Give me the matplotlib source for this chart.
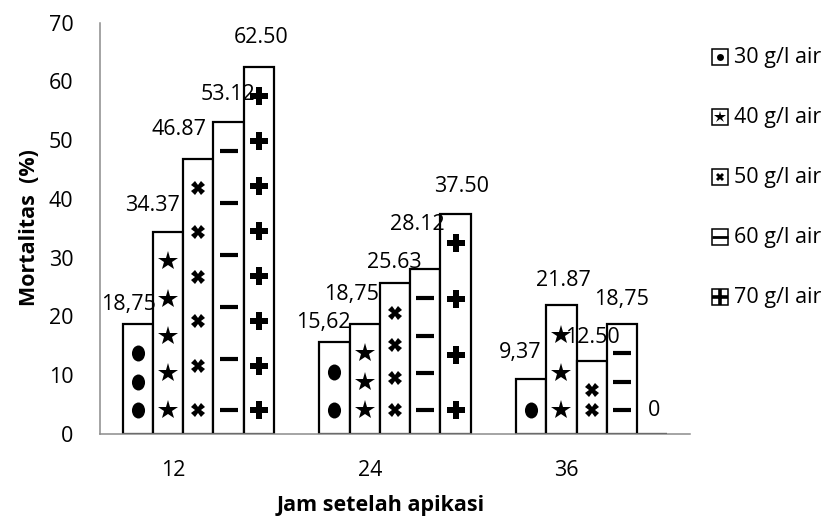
import matplotlib
matplotlib.use('Agg')
import matplotlib.pyplot as plt
from matplotlib.patches import Rectangle
from matplotlib.lines import Line2D
from matplotlib.markers import MarkerStyle
import matplotlib.transforms as mtransforms
import numpy as np

plt.rcParams['font.family'] = ['Open Sans', 'DejaVu Sans']

# ---------------- data ----------------
categories = ['12', '24', '36']
series_names = ['30 g/l air', '40 g/l air', '50 g/l air', '60 g/l air', '70 g/l air']
s30 = [18.75, 15.62, 9.37]
s40 = [34.37, 18.75, 21.87]
s50 = [46.87, 25.63, 12.50]
s60 = [53.12, 28.12, 18.75]
s70 = [62.50, 37.50, 0.0]
labels30 = ['18,75', '15,62', '9,37']
labels40 = ['34.37', '18,75', '21.87']
labels50 = ['46.87', '25.63', '12.50']
labels60 = ['53.12', '28.12', '18,75']
labels70 = ['62.50', '37.50', '0']
yticks = [0, 10, 20, 30, 40, 50, 60, 70]
xlabel = 'Jam setelah apikasi'
ylabel = 'Mortalitas  (%)'

series_values = [s30, s40, s50, s60, s70]
series_labels = [labels30, labels40, labels50, labels60, labels70]

# ---------------- style ----------------
W, H = 833, 523
ellipse = MarkerStyle('o', transform=mtransforms.Affine2D().scale(0.82, 1.0))
marker_styles = [ellipse, '*', 'X', '_', 'P']
marker_sizes = [11.5, 15, 10, 13, 12.5]
marker_ew = [0, 0, 0, 3.0, 0]
# legend glyphs inside the little boxes
leg_markers = ['o', '*', 'X', '_', '+']
leg_sizes = [5, 9, 6, 11.5, 11.5]
leg_ew = [0, 0, 0, 2.0, 2.6]
# number of pattern glyphs drawn inside each bar (series x category)
pattern_counts = [[3, 2, 1], [5, 3, 3], [6, 4, 2], [6, 4, 3], [8, 4, 0]]
# data-label offsets in pixels (dx, dy above bar top)
label_offsets = [[(-9, 19), (-11, 20), (-11, 26)],
                 [(-16, 27), (-13, 29), (2, 25)],
                 [(-19, 29), (-1, 21), (1, 23)],
                 [(-1, 27), (-8, 44), (0, 24)],
                 [(2, 29), (6, 27), (2, 24)]]
FS = 15.5

fig = plt.figure(figsize=(W / 100, H / 100), dpi=100)
ax = fig.add_axes([100 / W, (H - 434) / H, 590 / W, (434 - 22.7) / H])

n = len(series_values)
group_w = 0.77
w = group_w / n
xc = np.arange(len(categories))

for j, (vals, labs) in enumerate(zip(series_values, series_labels)):
    xs = xc + (j - (n - 1) / 2) * w
    ax.bar(xs, vals, width=w, facecolor='white', edgecolor='black', linewidth=1.6, zorder=2)
    for i, (x, v, lab) in enumerate(zip(xs, vals, labs)):
        cnt = pattern_counts[j][i]
        if cnt > 0:
            ys = np.linspace(4.0, v - 5.0, cnt) if cnt > 1 else np.array([4.0])
            ax.plot(np.full(len(ys), x), ys, linestyle='none', marker=marker_styles[j],
                    markersize=marker_sizes[j], color='black', markeredgewidth=marker_ew[j], zorder=3)
        dx, dy = label_offsets[j][i]
        ax.annotate(lab, xy=(x, v), xytext=(dx, dy), textcoords='offset pixels',
                    ha='center', va='center', fontsize=FS, color='black', zorder=4)

ax.set_xlim(-0.5, len(categories) - 0.5)
ax.set_ylim(0, 70)
ax.set_yticks(yticks)
ax.set_xticks(xc)
ax.set_xticklabels(categories)
ax.tick_params(axis='both', length=0, labelsize=FS, colors='black')
ax.tick_params(axis='y', pad=19)
ax.tick_params(axis='x', pad=19)
shift = mtransforms.ScaledTranslation(-25 / 100, 0, fig.dpi_scale_trans)
for lbl in ax.get_xticklabels():
    lbl.set_transform(lbl.get_transform() + shift)

for side in ['top', 'right']:
    ax.spines[side].set_visible(False)
for side in ['left', 'bottom']:
    ax.spines[side].set_color('#8c8c8c')
    ax.spines[side].set_linewidth(1.1)

ax.set_xlabel(xlabel, fontsize=FS, fontweight='bold')
ax.set_ylabel(ylabel, fontsize=FS, fontweight='bold')
ax.xaxis.set_label_coords((381 - 100) / 590, (434 - 505) / 411.3)
ax.xaxis.label.set_va('center')
ax.yaxis.set_label_coords((30 - 100) / 590, (434 - 228) / 411.3)
ax.yaxis.label.set_va('center')

# ---------------- legend (drawn in figure pixel space) ----------------
def fx(px):
    return px / W

def fy(py):
    return 1 - py / H

box = 16
for k, name in enumerate(series_names):
    cy = 57 + 60 * k
    x0 = 712
    fig.add_artist(Rectangle((fx(x0), fy(cy + box / 2)), box / W, box / H,
                             transform=fig.transFigure, facecolor='white',
                             edgecolor='black', linewidth=1.1))
    fig.add_artist(Line2D([fx(x0 + box / 2)], [fy(cy)], transform=fig.transFigure,
                          linestyle='none', marker=leg_markers[k], markersize=leg_sizes[k],
                          color='black', markeredgewidth=leg_ew[k]))
    fig.text(fx(x0 + box + 6), fy(cy), name, fontsize=FS, ha='left', va='center')

fig.savefig('out.png', dpi=100)
